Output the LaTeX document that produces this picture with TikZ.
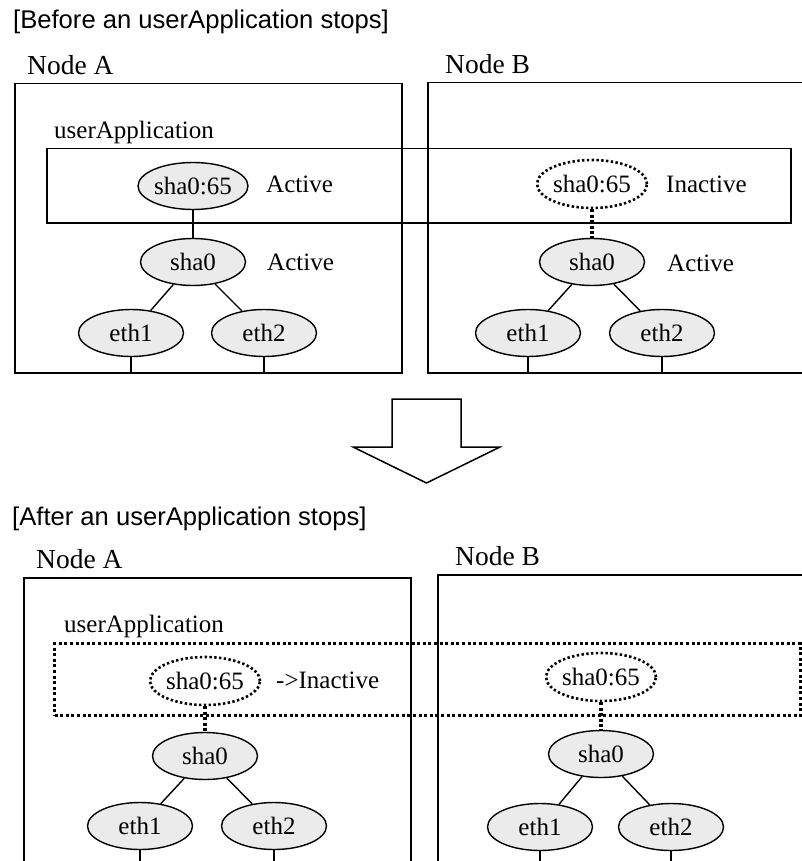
\documentclass[tikz,border=0pt]{standalone}
\usepackage{fontspec}
\setmainfont{Liberation Serif}
\newfontfamily\headfont{Liberation Sans}
\usetikzlibrary{shapes.geometric}
\definecolor{iffill}{RGB}{235,235,235}

\tikzset{
  hostbox/.style={draw, line width=1.5pt, rectangle, anchor=north west, inner sep=0pt},
  appbox/.style={draw, line width=1.5pt, rectangle, anchor=north west, inner sep=0pt},
  appboxoff/.style={draw, line width=3pt, dash pattern=on 3pt off 2.6pt, rectangle, anchor=north west, inner sep=0pt},
  ifnode/.style={ellipse, draw, line width=1.4pt, fill=iffill, minimum width=105pt, minimum height=47pt, inner sep=0pt, font=\fontsize{25}{28}\selectfont},
  ifoff/.style={ellipse, draw, line width=2.6pt, dash pattern=on 2.4pt off 2.4pt, minimum width=107pt, minimum height=48pt, inner sep=0pt, font=\fontsize{25}{28}\selectfont},
  link/.style={line width=1.4pt},
  linkoff/.style={line width=3.2pt, dash pattern=on 3pt off 2.4pt},
  statelbl/.style={font=\fontsize{25}{28}\selectfont, inner sep=0pt, anchor=base west},
  hostlbl/.style={font=\fontsize{27.5}{30}\selectfont, inner sep=0pt, anchor=base west},
  headlbl/.style={font=\headfont\fontsize{25.6}{30}\selectfont, inner sep=0pt, anchor=base west},
  bigarrow/.style={draw, line width=1.5pt, line join=miter, fill=white}
}

\begin{document}
\begin{tikzpicture}[x=1pt,y=-1pt]
\useasboundingbox (0,0) rectangle (802,861);
\clip (0,0) rectangle (802,861);

% ---------- before ----------
\node[headlbl] (head1) at (13,29) {[Before an userApplication stops]};

\node[hostlbl] (labA1) at (27,75) {Node A};
\node[hostlbl] (labB1) at (445,74) {Node B};
\node[hostbox, minimum width=387pt, minimum height=289pt] (hostA1) at (14,83) {};
\node[hostbox, minimum width=400pt, minimum height=290pt] (hostB1) at (427,82) {};

\node[statelbl] (labapp1) at (54,139) {userApplication};
\node[appbox, minimum width=744pt, minimum height=74pt] (app1) at (46,148) {};

\node[ifnode] (shaA1) at (193,186) {sha0:65};
\node[statelbl] (stA1) at (266,193) {Active};
\node[ifnode] (sha0A1) at (193,262) {sha0};
\node[statelbl] (st0A1) at (267,270) {Active};
\node[ifnode] (eth1A1) at (131,333) {eth1};
\node[ifnode] (eth2A1) at (264,333) {eth2};

\node[ifoff] (shaB1) at (592,184) {sha0:65};
\node[statelbl] (stB1) at (666,193) {Inactive};
\node[ifnode] (sha0B1) at (592,262) {sha0};
\node[statelbl] (st0B1) at (667,271) {Active};
\node[ifnode] (eth1B1) at (528,333) {eth1};
\node[ifnode] (eth2B1) at (662,333) {eth2};

\draw[link] (shaA1) -- (sha0A1);
\draw[link] (sha0A1) -- (eth1A1);
\draw[link] (sha0A1) -- (eth2A1);
\draw[link] (eth1A1.south) -- (eth1A1.south |- hostA1.south);
\draw[link] (eth2A1.south) -- (eth2A1.south |- hostA1.south);

\draw[linkoff] (shaB1) -- (sha0B1);
\draw[link] (sha0B1) -- (eth1B1);
\draw[link] (sha0B1) -- (eth2B1);
\draw[link] (eth1B1.south) -- (eth1B1.south |- hostB1.south);
\draw[link] (eth2B1.south) -- (eth2B1.south |- hostB1.south);

% ---------- transition arrow ----------
\draw[bigarrow] (392,399) -- (461,399) -- (461,447) -- (500,447) -- (426.5,483)
  -- (353,447) -- (392,447) -- cycle;

% ---------- after ----------
\node[headlbl] (head2) at (12,525) {[After an userApplication stops]};

\node[hostlbl] (labA2) at (36,568) {Node A};
\node[hostlbl] (labB2) at (455,565) {Node B};
\node[hostbox, minimum width=387pt, minimum height=310pt] (hostA2) at (23,577) {};
\node[hostbox, minimum width=400pt, minimum height=310pt] (hostB2) at (437,574) {};

\node[statelbl] (labapp2) at (64,632) {userApplication};
\node[appboxoff, minimum width=746pt, minimum height=72pt] (app2) at (53,642) {};

\node[ifoff] (shaA2) at (205,681) {sha0:65};
\node[statelbl] (stA2) at (276,688) {->Inactive};
\node[ifnode] (sha0A2) at (205,756) {sha0};
\node[ifnode] (eth1A2) at (140,826) {eth1};
\node[ifnode] (eth2A2) at (274,826) {eth2};

\node[ifoff] (shaB2) at (601,677) {sha0:65};
\node[ifnode] (sha0B2) at (601,754) {sha0};
\node[ifnode] (eth1B2) at (540,827) {eth1};
\node[ifnode] (eth2B2) at (671,827) {eth2};

\draw[linkoff] (shaA2) -- (sha0A2);
\draw[link] (sha0A2) -- (eth1A2);
\draw[link] (sha0A2) -- (eth2A2);
\draw[link] (eth1A2.south) -- (eth1A2.south |- hostA2.south);
\draw[link] (eth2A2.south) -- (eth2A2.south |- hostA2.south);

\draw[linkoff] (shaB2) -- (sha0B2);
\draw[link] (sha0B2) -- (eth1B2);
\draw[link] (sha0B2) -- (eth2B2);
\draw[link] (eth1B2.south) -- (eth1B2.south |- hostB2.south);
\draw[link] (eth2B2.south) -- (eth2B2.south |- hostB2.south);
\end{tikzpicture}
\end{document}
